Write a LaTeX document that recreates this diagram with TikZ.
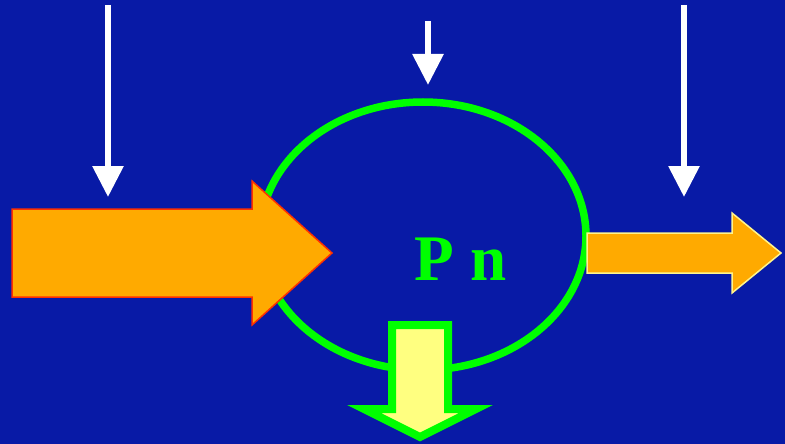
\documentclass[tikz,border=0pt]{standalone}
\usepackage{fontspec}
\setmainfont{Liberation Serif}
\usetikzlibrary{arrows.meta}
\definecolor{bgblue}{RGB}{8,26,166}
\definecolor{orng}{RGB}{255,170,0}
\definecolor{redline}{RGB}{255,48,0}
\definecolor{paleyel}{RGB}{255,244,140}
\definecolor{brightgreen}{RGB}{0,255,0}
\definecolor{lightyel}{RGB}{255,255,128}
\tikzset{
  whitearrow/.style={draw=white, line width=6pt,
    -{Triangle[width=30pt,length=31pt]}, fill=white},
  bigarrow/.style={fill=orng, draw=redline, line width=1.5pt, line join=miter},
  smallarrow/.style={fill=orng, draw=paleyel, line width=1.5pt, line join=miter},
  outarrow/.style={fill=lightyel, draw=brightgreen, line width=8pt, line join=miter, miter limit=20},
  loop/.style={draw=brightgreen, line width=7.5pt},
  label/.style={text=brightgreen, font=\fontsize{65}{70}\selectfont\bfseries, inner sep=0pt}
}
\begin{document}
\begin{tikzpicture}[x=1pt, y=-1pt]
\fill[bgblue] (0,0) rectangle (785,444);
\useasboundingbox (0,0) rectangle (785,444);
% loop
\draw[loop] (423,236) ellipse [x radius=163, y radius=134];
% big input arrow
\draw[bigarrow] (12,209) -- (252,209) -- (252,181) -- (332,253) -- (252,325) -- (252,297) -- (12,297) -- cycle;
% output arrow right
\draw[smallarrow] (587,233) -- (732,233) -- (732,213) -- (781,253) -- (732,293) -- (732,273) -- (587,273) -- cycle;
% bottom output arrow
\draw[outarrow] (392,325) -- (448,325) -- (448,409) -- (476,409) -- (420,437) -- (364,409) -- (392,409) -- cycle;
% white arrows
\coordinate (a1s) at (108,5);
\coordinate (a1e) at (108,197);
\coordinate (a2s) at (428,21);
\coordinate (a2e) at (428,85);
\coordinate (a3s) at (684,5);
\coordinate (a3e) at (684,197);
\draw[whitearrow] (a1s) -- (a1e);
\draw[whitearrow] (a2s) -- (a2e);
\draw[whitearrow] (a3s) -- (a3e);
% label
\node[label, anchor=base] (pn) at (461,280) {P n};
\end{tikzpicture}
\end{document}
